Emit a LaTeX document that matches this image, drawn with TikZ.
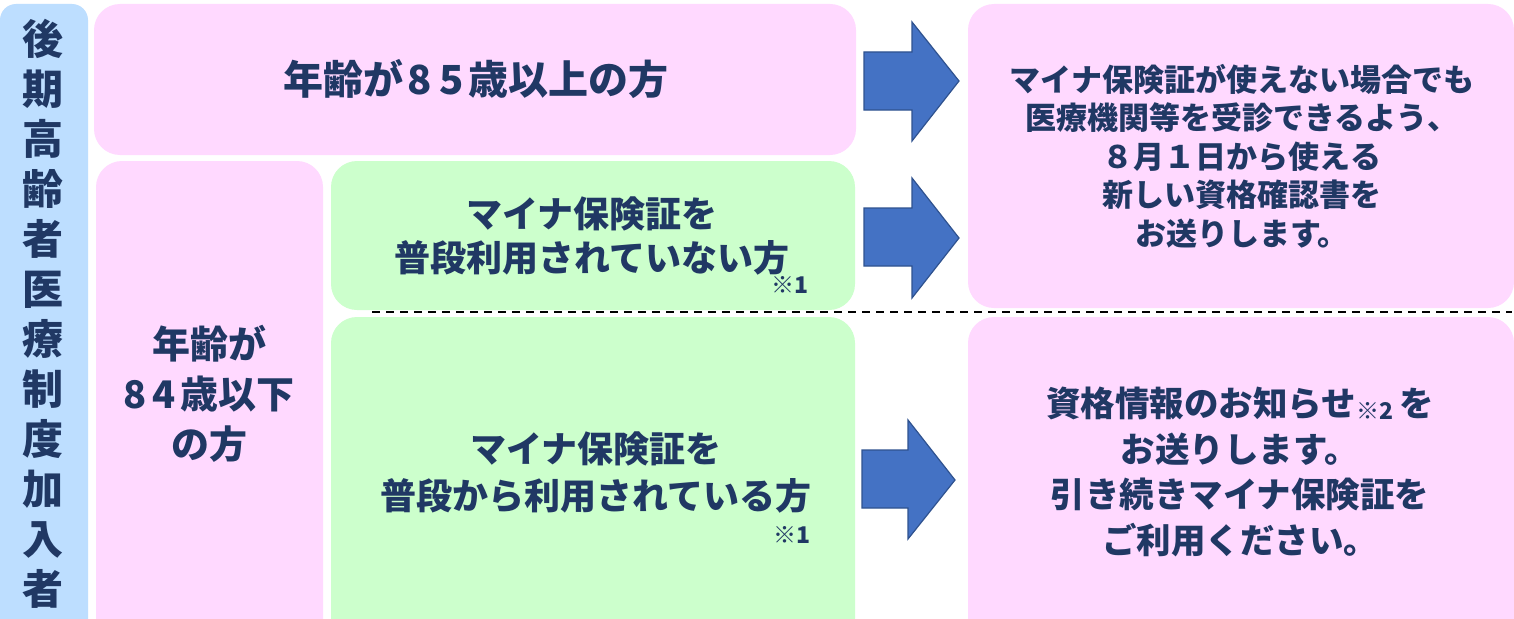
\documentclass[tikz,border=0pt]{standalone}
\usepackage{fontspec}
\newfontfamily\jp{Noto Sans CJK JP}
\definecolor{navy}{HTML}{203864}
\definecolor{pinkfill}{HTML}{FFD9FF}
\definecolor{greenfill}{HTML}{CCFFCC}
\definecolor{bluefill}{HTML}{BDDEFF}
\definecolor{arrowfill}{HTML}{4472C4}
\definecolor{arrowline}{HTML}{2F528F}
\tikzset{
  panel/.style={rounded corners=26pt},
  txt/.style={text=navy, align=center, inner sep=0pt},
  bigarrow/.style={fill=arrowfill, draw=arrowline, line width=1.2pt, line join=miter},
  note/.style={text=navy, inner sep=0pt, font=\jp\bfseries\fontsize{23}{23}\selectfont},
}
\begin{document}
\begin{tikzpicture}[x=1pt,y=-1pt]
\useasboundingbox (0,0) rectangle (1514,618);
\clip (0,0) rectangle (1514,618);
\fill[white] (0,0) rectangle (1514,618);
% panels
\fill[bluefill, rounded corners=16pt] (0,4) rectangle (88,650);
\fill[pinkfill, panel] (94,4) rectangle (856,155);
\fill[pinkfill, panel] (96,161) rectangle (323,650);
\fill[greenfill, panel] (331,161) rectangle (855,310);
\fill[greenfill, panel] (331,317) rectangle (855,650);
\fill[pinkfill, panel] (968,4) rectangle (1514,308);
\fill[pinkfill, panel] (968,317) rectangle (1514,650);
% dashed separator
\draw[black, line width=2.6pt, dash pattern=on 8pt off 6pt] (372,312) -- (1512,312);
% arrows
\draw[bigarrow] (864,52) -- (912,52) -- (912,22) -- (959,81) -- (912,141) -- (912,110) -- (864,110) -- cycle;
\draw[bigarrow] (864,208) -- (912,208) -- (912,178) -- (959,238) -- (912,298) -- (912,266) -- (864,266) -- cycle;
\draw[bigarrow] (862,450) -- (908,450) -- (908,420) -- (955,480) -- (908,539) -- (908,508) -- (862,508) -- cycle;
% texts
\node[txt, font=\jp\bfseries\fontsize{41}{50}\selectfont] (side) at (43,314)
  {後\\期\\高\\齢\\者\\医\\療\\制\\度\\加\\入\\者};
\node[txt, font=\jp\bfseries\fontsize{40}{44}\selectfont] (over85) at (476,79)
  {年齢が\kern4pt 8\kern7pt 5\kern5pt 歳以上の方};
\node[txt, font=\jp\bfseries\fontsize{38}{50}\selectfont] (under84) at (209,394)
  {年齢が\\8\kern6pt 4\kern4pt 歳以下\\の方};
\node[txt, font=\jp\bfseries\fontsize{36}{44}\selectfont] (notuse) at (592,236)
  {マイナ保険証を\\普段利用されていない方};
\node[note] (n1a) at (790,285) {※1};
\node[txt, font=\jp\bfseries\fontsize{36}{47}\selectfont] (use) at (596,472)
  {マイナ保険証を\\普段から利用されている方};
\node[note] (n1b) at (792,535) {※1};
\node[txt, font=\jp\bfseries\fontsize{31}{38.5}\selectfont] (cert) at (1242,156)
  {マイナ保険証が使えない場合でも\\医療機関等を受診できるよう、\\８月１日から使える\\新しい資格確認書を\\お送りします。};
\node[txt, font=\jp\bfseries\fontsize{34.5}{45.5}\selectfont] (info) at (1240,472)
  {資格情報のお知らせ{\fontsize{23}{23}\selectfont\raisebox{-3pt}{※2}}\,を\\お送りします。\\引き続きマイナ保険証を\\ご利用ください。};
\end{tikzpicture}
\end{document}
